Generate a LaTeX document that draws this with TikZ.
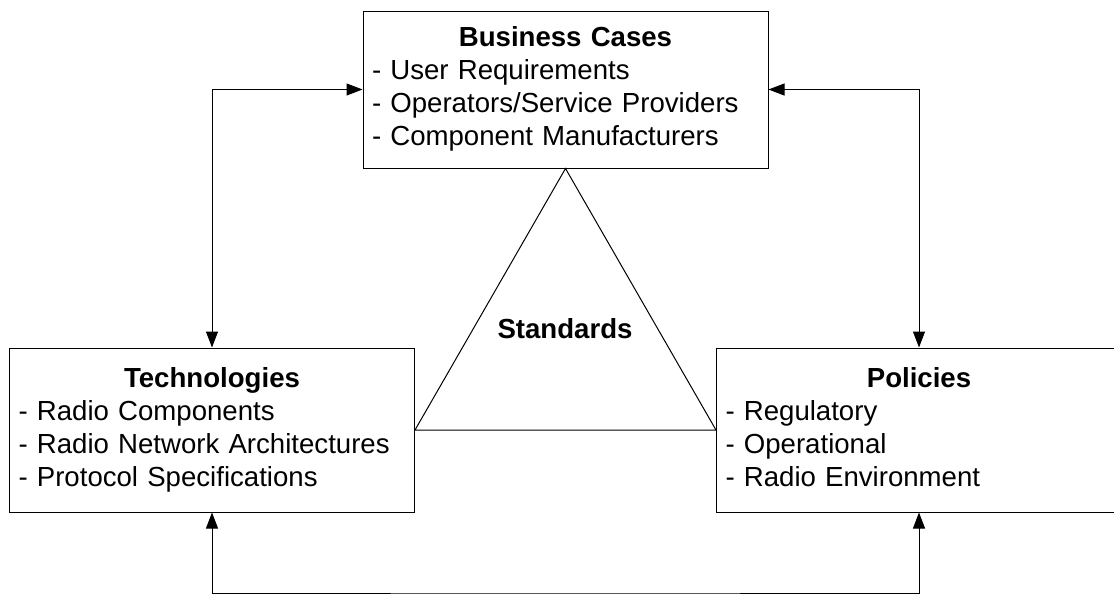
\documentclass[tikz,border=0pt]{standalone}
\usepackage{fontspec}
\setmainfont{Liberation Sans}
\usepackage{tikz}
\usetikzlibrary{arrows.meta}
\tikzset{
  panel/.style={draw, rectangle, line width=0.5pt, text width=193.5pt, inner xsep=4.5pt, inner ysep=0pt, align=left, font=\fontsize{13.8}{16.5}\selectfont},
  link/.style={line width=0.5pt, {Triangle[length=8pt,width=6pt]}-{Triangle[length=8pt,width=6pt]}},
  tag/.style={font=\fontsize{13.8}{16.5}\selectfont\bfseries, inner sep=0pt, anchor=base}
}
\newcommand{\panel}[5]{\node[panel, minimum height=#3] (#1) at (#2) {{\centering\strut\textbf{#4}\par}#5\strut};}

\begin{document}
\begin{tikzpicture}[x=0.5pt,y=-0.5pt]
\clip (0,0) rectangle (1114,595);
% the three boxes
\panel{cases}{565.5,89.5}{78.5pt}{Business Cases}{- User Requirements\\- Operators/Service Providers\\- Component Manufacturers}
\panel{tech}{212,430}{82pt}{Technologies}{- Radio Components\\- Radio Network Architectures\\- Protocol Specifications}
\panel{policy}{919,430}{82pt}{Policies}{- Regulatory\\- Operational\\- Radio Environment}
% triangle between the boxes
\draw[line width=0.5pt] (cases.south) -- (tech.east) -- (policy.west) -- cycle;
\node[tag] (std) at (565,338) {Standards};
% arrows round the outside
\coordinate (loopbase) at (565,593);
\draw[link] (cases.west) -| (tech.north);
\draw[link] (cases.east) -| (policy.north);
\draw[link] (tech.south) |- (loopbase) -| (policy.south);
\end{tikzpicture}
\end{document}
